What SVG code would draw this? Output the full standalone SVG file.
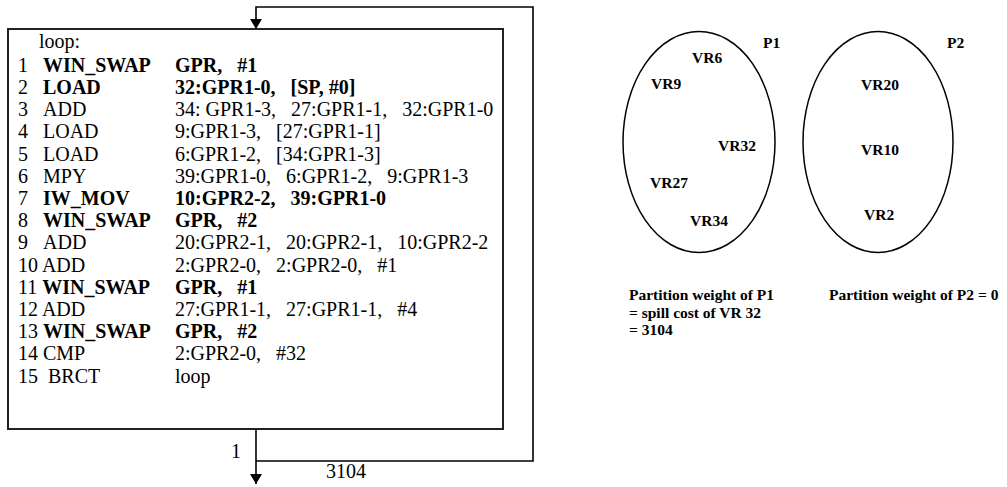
<svg xmlns="http://www.w3.org/2000/svg" width="1007" height="487" viewBox="0 0 1007 487">
<style>
.c{font-family:"Liberation Serif","Times New Roman",serif;font-size:20px;fill:#000;white-space:pre}
.b{font-weight:bold}
.r{font-family:"Liberation Serif","Times New Roman",serif;font-size:15.5px;font-weight:bold;fill:#000}
.ln{fill:none;stroke:#000;stroke-width:1.6}
.sh{fill:none;stroke:#000;stroke-width:1.5}
</style>
<defs>
<marker id="ah" markerUnits="userSpaceOnUse" markerWidth="10" markerHeight="12" refX="10" refY="6" orient="auto" viewBox="0 0 10 12">
<path d="M0,0 L10,6 L0,12 Z" fill="#000"/>
</marker>
</defs>
<g id="connectors">
<path class="ln" d="M256,429 V484" marker-end="url(#ah)"/>
<path class="ln" d="M256,461 H533 V7 H256 V29" marker-end="url(#ah)"/>
<text class="c" x="231" y="458">1</text>
<text class="c" x="326" y="478">3104</text>
</g>
<g id="code-block">
<rect x="8" y="29" width="495" height="400" fill="#fff" stroke="#222" stroke-width="2"/>
<text class="c" x="39" y="48">loop:</text>
<text class="c" x="18" y="72">1</text><text class="c b" x="43" y="72">WIN_SWAP</text><text xml:space="preserve" class="c b" x="175" y="72">GPR,   #1</text>
<text class="c" x="18" y="94">2</text><text class="c b" x="43" y="94">LOAD</text><text xml:space="preserve" class="c b" x="175" y="94">32:GPR1-0,   [SP, #0]</text>
<text class="c" x="18" y="116">3</text><text class="c" x="43" y="116">ADD</text><text xml:space="preserve" class="c" x="175" y="116">34: GPR1-3,   27:GPR1-1,   32:GPR1-0</text>
<text class="c" x="18" y="138">4</text><text class="c" x="43" y="138">LOAD</text><text xml:space="preserve" class="c" x="175" y="138">9:GPR1-3,   [27:GPR1-1]</text>
<text class="c" x="18" y="161">5</text><text class="c" x="43" y="161">LOAD</text><text xml:space="preserve" class="c" x="175" y="161">6:GPR1-2,   [34:GPR1-3]</text>
<text class="c" x="18" y="183">6</text><text class="c" x="43" y="183">MPY</text><text xml:space="preserve" class="c" x="175" y="183">39:GPR1-0,   6:GPR1-2,   9:GPR1-3</text>
<text class="c" x="18" y="205">7</text><text class="c b" x="43" y="205">IW_MOV</text><text xml:space="preserve" class="c b" x="175" y="205">10:GPR2-2,   39:GPR1-0</text>
<text class="c" x="18" y="227">8</text><text class="c b" x="43" y="227">WIN_SWAP</text><text xml:space="preserve" class="c b" x="175" y="227">GPR,   #2</text>
<text class="c" x="18" y="249">9</text><text class="c" x="43" y="249">ADD</text><text xml:space="preserve" class="c" x="175" y="249">20:GPR2-1,   20:GPR2-1,   10:GPR2-2</text>
<text class="c" x="18" y="272">10 ADD</text><text xml:space="preserve" class="c" x="175" y="272">2:GPR2-0,   2:GPR2-0,   #1</text>
<text class="c" x="18" y="294">11 <tspan class="b">WIN_SWAP</tspan></text><text xml:space="preserve" class="c b" x="175" y="294">GPR,   #1</text>
<text class="c" x="18" y="316">12 ADD</text><text xml:space="preserve" class="c" x="175" y="316">27:GPR1-1,   27:GPR1-1,   #4</text>
<text class="c" x="18" y="338">13 <tspan class="b">WIN_SWAP</tspan></text><text xml:space="preserve" class="c b" x="175" y="338">GPR,   #2</text>
<text class="c" x="18" y="360">14 CMP</text><text xml:space="preserve" class="c" x="175" y="360">2:GPR2-0,   #32</text>
<text xml:space="preserve" class="c" x="18" y="383">15  BRCT</text><text class="c" x="175" y="383">loop</text>
</g>
<g id="partition-P1">
<ellipse class="sh" cx="699" cy="142" rx="76" ry="110.5"/>
<text class="r" x="763" y="48">P1</text>
<text class="r" x="692" y="63">VR6</text>
<text class="r" x="651" y="89">VR9</text>
<text class="r" x="718" y="151">VR32</text>
<text class="r" x="650" y="188">VR27</text>
<text class="r" x="690" y="226">VR34</text>
</g>
<g id="partition-P2">
<ellipse class="sh" cx="878" cy="142" rx="75" ry="110.5"/>
<text class="r" x="947" y="48">P2</text>
<text class="r" x="861" y="90">VR20</text>
<text class="r" x="861" y="155">VR10</text>
<text class="r" x="864" y="220">VR2</text>
</g>
<g id="weight-P1">
<text class="r" x="629" y="300">Partition weight of P1</text>
<text class="r" x="629" y="318">= spill cost of VR 32</text>
<text class="r" x="629" y="335">= 3104</text>
</g>
<g id="weight-P2">
<text class="r" x="829" y="300">Partition weight of P2 = 0</text>
</g>
</svg>
